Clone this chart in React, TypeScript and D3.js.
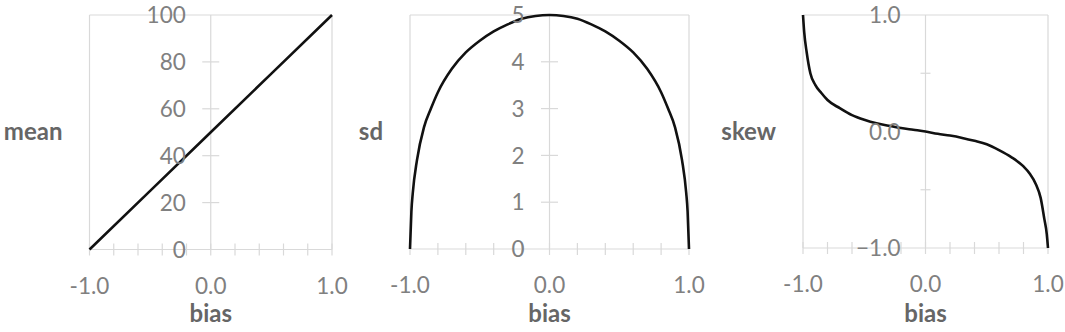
import React from "react";
import * as d3 from "d3";

// ---- data ----
const meanBias = [-1, -0.5, 0, 0.5, 1];
const meanValues = [0, 25, 50, 75, 100];

const sdBias = [-1, -0.99, -0.98, -0.95, -0.9, -0.85, -0.8, -0.7, -0.6, -0.5, -0.4, -0.3, -0.2, -0.1, 0, 0.1, 0.2, 0.3, 0.4, 0.5, 0.6, 0.7, 0.8, 0.85, 0.9, 0.95, 0.98, 0.99, 1];
const sdValues = [0, 0.8, 1.2, 1.9, 2.6, 3.0, 3.35, 3.85, 4.2, 4.45, 4.65, 4.8, 4.92, 4.98, 5.0, 4.98, 4.92, 4.8, 4.65, 4.45, 4.2, 3.85, 3.35, 3.0, 2.6, 1.9, 1.2, 0.8, 0];

const skewBias = [-1, -0.99, -0.97, -0.94, -0.9, -0.85, -0.8, -0.7, -0.6, -0.5, -0.4, -0.3, -0.2, -0.1, 0, 0.1, 0.2, 0.3, 0.4, 0.5, 0.6, 0.7, 0.8, 0.85, 0.9, 0.94, 0.97, 0.99, 1];
const skewValues = [1.0, 0.85, 0.68, 0.5, 0.4, 0.33, 0.27, 0.2, 0.14, 0.1, 0.07, 0.05, 0.03, 0.015, 0, -0.02, -0.035, -0.055, -0.08, -0.11, -0.16, -0.22, -0.3, -0.36, -0.45, -0.57, -0.75, -0.88, -1.0];

const xLabelTicks = [-1, 0, 1];
const xLabelText = ["-1.0", "0.0", "1.0"];
const xMinorTicks = [-1, -0.8, -0.6, -0.4, -0.2, 0, 0.2, 0.4, 0.6, 0.8, 1];

const meanYLabels = [0, 20, 40, 60, 80, 100];
const meanYTicks = [20, 40, 60, 80];
const sdYLabels = [0, 1, 2, 3, 4, 5];
const sdYTicks = [1, 2, 3, 4];
const skewYLabels = [-1, 0, 1];
const skewYTicks = [-0.5, 0.5];

const titles = ["mean", "sd", "skew"];

const GRID = "#d9d9d9";
const LABEL = "#808080";
const TITLE = "#666666";
const FONT = "Lato, 'Open Sans', sans-serif";

type PanelProps = {
  left: number;
  right: number;
  top: number;
  bottom: number;
  xs: number[];
  ys: number[];
  yDomain: [number, number];
  yLabels: number[];
  yFormat: (v: number) => string;
  yTicks: number[];
  yTickHalf: number;
  title: string;
  curve: d3.CurveFactory;
};

function Panel(p: PanelProps) {
  const x = d3.scaleLinear().domain([-1, 1]).range([p.left, p.right]);
  const y = d3.scaleLinear().domain(p.yDomain).range([p.bottom, p.top]);
  const pts = p.xs.map((b, i) => [b, p.ys[i]] as [number, number]);
  const path = d3
    .line<[number, number]>()
    .x((d) => x(d[0]))
    .y((d) => y(d[1]))
    .curve(p.curve)(pts) as string;
  const x0 = x(0);
  return (
    <g>
      {/* plot border */}
      <line x1={x(-1)} x2={x(1)} y1={p.top} y2={p.top} stroke={GRID} strokeWidth={1.2} />
      <line x1={x(-1)} x2={x(-1)} y1={p.top} y2={p.bottom} stroke={GRID} strokeWidth={1.2} />
      <line x1={x(1)} x2={x(1)} y1={p.top} y2={p.bottom} stroke={GRID} strokeWidth={1.2} />
      {/* y axis */}
      <line x1={x0} x2={x0} y1={p.top} y2={p.bottom} stroke={GRID} strokeWidth={1.2} />
      {p.yTicks.map((t) => (
        <line key={"yt" + t} x1={x0 - p.yTickHalf} x2={x0 + p.yTickHalf} y1={y(t)} y2={y(t)} stroke={GRID} strokeWidth={1.2} />
      ))}
      {/* x axis */}
      <line x1={x(-1)} x2={x(1)} y1={p.bottom} y2={p.bottom} stroke={GRID} strokeWidth={1.2} />
      {xMinorTicks.map((t) => (
        <line key={"xt" + t} x1={x(t)} x2={x(t)} y1={p.bottom - 6} y2={p.bottom + 6} stroke={GRID} strokeWidth={1.2} />
      ))}
      {/* curve */}
      <path d={path} fill="none" stroke="#111" strokeWidth={2.6} strokeLinejoin="round" />
      {/* y labels */}
      {p.yLabels.map((t) => (
        <text key={"yl" + t} x={x0 - 25} y={y(t)} dy="0.36em" textAnchor="end" fontFamily={FONT} fontSize={22.5} fill={LABEL}>
          {p.yFormat(t)}
        </text>
      ))}
      {/* x labels */}
      {xLabelTicks.map((t, i) => (
        <text key={"xl" + t} x={x(t)} y={p.bottom + 36} dy="0.36em" textAnchor="middle" fontFamily={FONT} fontSize={22.5} fill={LABEL}>
          {xLabelText[i]}
        </text>
      ))}
      <text x={x0} y={322} textAnchor="middle" fontFamily={FONT} fontSize={24} fontWeight="bold" fill={TITLE}>
        bias
      </text>
      <text x={p.left - 27} y={140} textAnchor="end" fontFamily={FONT} fontSize={24} fontWeight="bold" fill={TITLE}>
        {p.title}
      </text>
    </g>
  );
}

export default function App() {
  return (
    <svg
      width={1065}
      height={332}
      style={{ position: "absolute", left: 0, top: 0, background: "#fff" }}
    >
      <rect width={1065} height={332} fill="#fff" />
      <Panel
        left={89.5}
        right={332}
        top={15}
        bottom={249.5}
        xs={meanBias}
        ys={meanValues}
        yDomain={[0, 100]}
        yLabels={meanYLabels}
        yFormat={(v) => String(v)}
        yTicks={meanYTicks}
        yTickHalf={8.5}
        title={titles[0]}
        curve={d3.curveLinear}
      />
      <Panel
        left={410}
        right={689}
        top={15}
        bottom={249}
        xs={sdBias}
        ys={sdValues}
        yDomain={[0, 5]}
        yLabels={sdYLabels}
        yFormat={(v) => String(v)}
        yTicks={sdYTicks}
        yTickHalf={8.5}
        title={titles[1]}
        curve={d3.curveMonotoneX}
      />
      <Panel
        left={803}
        right={1048}
        top={15}
        bottom={248}
        xs={skewBias}
        ys={skewValues}
        yDomain={[-1, 1]}
        yLabels={skewYLabels}
        yFormat={(v) => d3.format(".1f")(v)}
        yTicks={skewYTicks}
        yTickHalf={5}
        title={titles[2]}
        curve={d3.curveMonotoneX}
      />
    </svg>
  );
}
